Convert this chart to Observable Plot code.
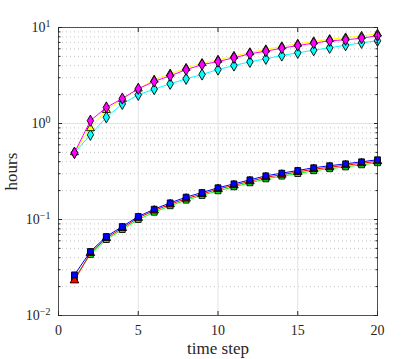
<!DOCTYPE html>
<html><head><meta charset="utf-8">
<script src="https://cdn.jsdelivr.net/npm/d3@7"></script>
<script src="https://cdn.jsdelivr.net/npm/@observablehq/plot@0.6"></script>
<style>
body{margin:0;background:#fff}
svg, svg text{font-family:"Liberation Serif","Times New Roman",serif !important}
</style>
</head><body><div id="chart"></div>
<script>
const steps = [1,2,3,4,5,6,7,8,9,10,11,12,13,14,15,16,17,18,19,20];
const cyanHours    = [0.495,0.763,1.16,1.60,1.99,2.28,2.59,2.92,3.24,3.65,4.02,4.39,4.72,5.11,5.45,5.80,6.15,6.54,6.93,7.27];
const yellowHours  = [0.50,0.89,1.38,1.80,2.30,2.85,3.30,3.78,4.25,4.60,5.05,5.50,5.90,6.35,6.75,7.15,7.55,7.85,8.15,8.60];
const magentaHours = [0.495,1.07,1.47,1.82,2.30,2.74,3.14,3.63,4.10,4.42,4.83,5.32,5.66,6.09,6.49,6.86,7.27,7.44,7.74,8.20];
const greenHours   = [0.0245,0.0432,0.0618,0.0786,0.100,0.119,0.139,0.159,0.178,0.199,0.219,0.241,0.265,0.283,0.301,0.322,0.338,0.353,0.371,0.390];
const redHours     = [0.0232,0.0448,0.0641,0.0815,0.104,0.124,0.144,0.165,0.184,0.207,0.227,0.250,0.275,0.293,0.313,0.334,0.350,0.367,0.385,0.404];
const blueHours    = [0.0265,0.0464,0.0665,0.0845,0.1075,0.128,0.149,0.171,0.191,0.214,0.235,0.259,0.285,0.304,0.324,0.346,0.363,0.380,0.399,0.419];

const xTicks = [0,5,10,15,20];
const yMajor = [0.01,0.1,1,10];
const yMinor = [];
for (const dec of [0.01,0.1,1]) for (let k = 2; k < 10; k++) yMinor.push(dec*k);

const seriesList = [
  {vals: cyanHours,    color: "#00ffff", symbol: "diamond",  r: 3.4},
  {vals: yellowHours,  color: "#ffff00", symbol: "triangle", r: 3},
  {vals: magentaHours, color: "#ff00ff", symbol: "diamond",  r: 3.4},
  {vals: greenHours,   color: "#00ff00", symbol: "square",   r: 3.3},
  {vals: redHours,     color: "#ff0000", symbol: "triangle", r: 3.2},
  {vals: blueHours,    color: "#0000ff", symbol: "square",   r: 3.3}
];

const seriesMarks = seriesList.flatMap(s => {
  const data = steps.map((t, i) => ({t, h: s.vals[i]}));
  return [
    Plot.line(data, {x: "t", y: "h", stroke: s.color, strokeWidth: 1}),
    Plot.dot(data, {x: "t", y: "h", symbol: s.symbol, r: s.r, fill: s.color, stroke: "#000", strokeWidth: 0.9})
  ];
});

const axisColor = "#262626";
const chart = Plot.plot({
  width: 415, height: 359,
  marginLeft: 58, marginRight: 38, marginTop: 27, marginBottom: 44,
  style: {fontFamily: "Liberation Serif, serif", background: "#fff", color: axisColor},
  x: {domain: [0, 20]},
  y: {type: "log", domain: [0.01, 10]},
  marks: [
    Plot.ruleY(yMinor, {stroke: "#b8b8b8", strokeDasharray: "1,3", strokeWidth: 0.8}),
    Plot.ruleX([5,10,15], {stroke: "#e2e2e2", strokeWidth: 1}),
    Plot.ruleY([0.1,1], {stroke: "#e2e2e2", strokeWidth: 1}),
    ...seriesMarks,
    Plot.frame({stroke: axisColor, strokeWidth: 0.8}),
    Plot.axisX({ticks: xTicks, tickSize: 0, tickPadding: 10, fontSize: 14, tickFormat: d => String(d),
      label: "time step", labelAnchor: "center", labelArrow: "none", labelOffset: 38}),
    Plot.axisX({ticks: xTicks, tickSize: -4, fill: "none", label: null, stroke: axisColor}),
    Plot.axisX({anchor: "top", ticks: xTicks, tickSize: -4, fill: "none", label: null, stroke: axisColor}),
    Plot.axisY({ticks: yMajor, tickSize: 0, tickPadding: 8, fontSize: 14,
      tickFormat: d => "10^" + Math.round(Math.log10(d)),
      label: "hours", labelAnchor: "center", labelArrow: "none", labelOffset: 54}),
    Plot.axisY({ticks: yMajor, tickSize: -4, fill: "none", label: null, stroke: axisColor}),
    Plot.axisY({ticks: yMinor, tickSize: -2.5, fill: "none", label: null, stroke: axisColor}),
    Plot.axisY({anchor: "right", ticks: yMajor, tickSize: -4, fill: "none", label: null, stroke: axisColor}),
    Plot.axisY({anchor: "right", ticks: yMinor, tickSize: -2.5, fill: "none", label: null, stroke: axisColor})
  ]
});

document.getElementById("chart").appendChild(chart);

// superscript exponents on the log axis labels
d3.select(chart).selectAll('g[aria-label="y-axis tick label"] text').each(function() {
  const t = d3.select(this);
  const s = t.text();
  if (!s.includes("^")) return;
  const [base, exp] = s.split("^");
  t.text(null);
  t.append("tspan").text(base);
  t.append("tspan").attr("dy", "-0.5em").attr("font-size", "10px").text(exp.replace("-", "\u2212"));
});
d3.select(chart).selectAll("text").attr("font-family", "Liberation Serif, serif");
d3.select(chart).selectAll('g[aria-label="x-axis label"] text, g[aria-label="y-axis label"] text').attr("font-size", 17);
</script>
</body></html>
